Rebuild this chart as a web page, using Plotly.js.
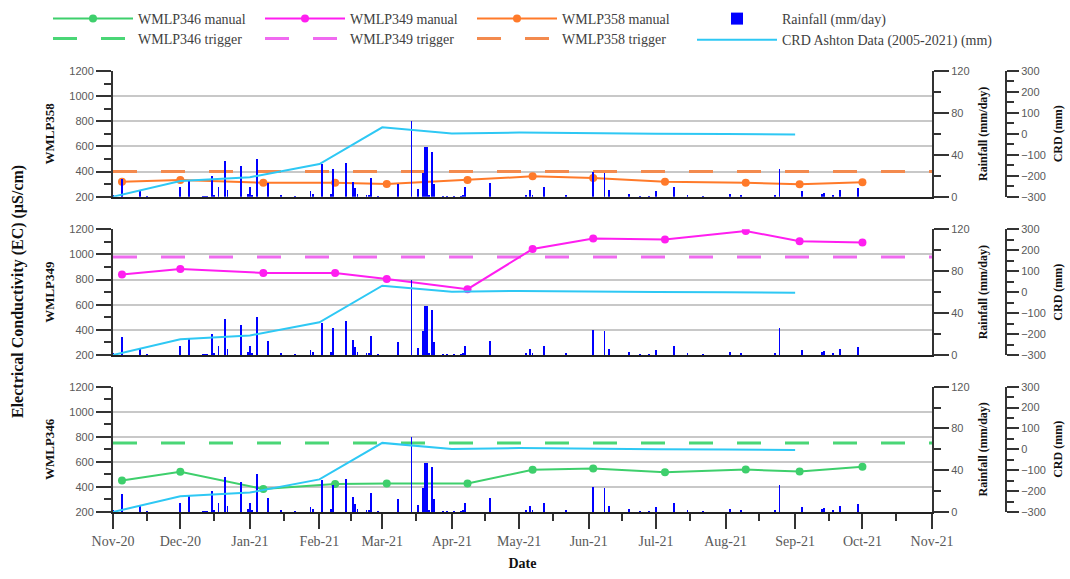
<!DOCTYPE html>
<html>
<head>
<meta charset="utf-8">
<script src="https://cdn.plot.ly/plotly-3.0.1.min.js"></script>
<style>html,body{margin:0;padding:0;background:#fff;}#chart{width:1070px;height:579px;}</style>
</head>
<body>
<div id="chart"></div>
<script>
// ---------- data ----------
const sampleDates = ['2020-11-05','2020-12-01','2021-01-07','2021-02-08','2021-03-03','2021-04-08','2021-05-07','2021-06-03','2021-07-05','2021-08-10','2021-09-03','2021-10-01'];
const wmlp346 = [452, 521, 383, 423, 428, 428, 537, 547, 518, 539, 523, 561];
const wmlp349 = [840, 885, 853, 853, 805, 724, 1043, 1126, 1118, 1187, 1105, 1094];
const wmlp358 = [319, 333, 311, 311, 301, 333, 362, 349, 319, 311, 299, 315];

const trigger346 = 750;
const trigger349 = 980;
const trigger358 = 400;
const dateRange = ['2020-11-01', '2021-11-01'];

const crdDates = ['2020-11-01','2020-12-01','2021-01-01','2021-02-01','2021-03-01','2021-04-01','2021-05-01','2021-06-01','2021-07-01','2021-08-01','2021-09-01'];
const crdValues = [-300, -225, -207, -144, 31, 2, 6, 5, 1, -1, -3];

const rainDates = ['2020-11-01','2020-11-05','2020-11-13','2020-11-16','2020-12-01','2020-12-05','2020-12-11','2020-12-12','2020-12-13','2020-12-15','2020-12-16','2020-12-18','2020-12-21','2020-12-22','2020-12-28','2020-12-31',
 '2021-01-01','2021-01-02','2021-01-04','2021-01-09','2021-01-15','2021-01-21','2021-01-28','2021-01-29','2021-02-02','2021-02-06','2021-02-07','2021-02-13','2021-02-16','2021-02-17','2021-02-18','2021-02-22','2021-02-23','2021-02-24','2021-02-27',
 '2021-03-08','2021-03-14','2021-03-17','2021-03-19','2021-03-20','2021-03-21','2021-03-22','2021-03-23','2021-03-24','2021-03-28','2021-03-30','2021-04-02','2021-04-05','2021-04-06','2021-04-07','2021-04-18',
 '2021-05-04','2021-05-06','2021-05-07','2021-05-12','2021-05-22','2021-06-03','2021-06-08','2021-06-10','2021-06-19','2021-06-24','2021-06-28','2021-07-01','2021-07-09','2021-07-15','2021-07-22',
 '2021-08-03','2021-08-08','2021-08-23','2021-08-25','2021-09-04','2021-09-13','2021-09-14','2021-09-18','2021-09-21','2021-09-29'];
const rainValues = [2,17,6,1,9,16,1,1,1,20,2,9,34,6,29,3,
 9,2,36,13,2,1,5,3,31,3,26,32,14,8,3,2,2,18,1,
 12,72,7,23,47,47,2,43,12,1,1,1,1,2,9,13,
 2,6,2,9,2,24,23,6,3,1,1,5,9,2,1,
 3,2,2,26,5,3,4,2,6,8];

const monthTicks = ['2020-11-01','2020-12-01','2021-01-01','2021-02-01','2021-03-01','2021-04-01','2021-05-01','2021-06-01','2021-07-01','2021-08-01','2021-09-01','2021-10-01','2021-11-01'];
const monthLabels = ['Nov-20','Dec-20','Jan-21','Feb-21','Mar-21','Apr-21','May-21','Jun-21','Jul-21','Aug-21','Sep-21','Oct-21','Nov-21'];
const minorTicks = ['2020-11-16','2020-12-16','2021-01-16','2021-02-15','2021-03-16','2021-04-16','2021-05-16','2021-06-16','2021-07-16','2021-08-16','2021-09-16','2021-10-16'];

// ---------- styling ----------
const SERIF = 'Liberation Serif, Times New Roman, serif';
const SANS = 'Liberation Sans, Arial, sans-serif';
const colGreen = '#3ECF6C', colMag = '#FF1EF0', colOrange = '#FF7A2A', colCyan = '#2EC8F4', colBlue = '#0000FF';
const trGreen = '#4AD676', trMag = '#F06AF0', trOrange = '#F38A4E';

const panels = [
  {x:'x3', ec:'y7', rain:'y8', crd:'y9', name:'WMLP358', vals:wmlp358, col:colOrange, trig:trigger358, tcol:trOrange},
  {x:'x2', ec:'y4', rain:'y5', crd:'y6', name:'WMLP349', vals:wmlp349, col:colMag, trig:trigger349, tcol:trMag},
  {x:'x',  ec:'y',  rain:'y2', crd:'y3', name:'WMLP346', vals:wmlp346, col:colGreen, trig:trigger346, tcol:trGreen}
];
const rankSeries = {WMLP346:1, WMLP349:2, WMLP358:3};

const traces = [];
panels.forEach((p, i) => {
  const first = (i === 0);
  traces.push({type:'scatter', mode:'lines', x:dateRange, y:[p.trig, p.trig], xaxis:p.x, yaxis:p.ec, legend:'legend2',
    line:{color:p.tcol, width:3, dash:'24px,24px'}, name:p.name + ' trigger', legendrank:rankSeries[p.name], hoverinfo:'skip'});
  traces.push({type:'scatter', mode:'lines+markers', x:sampleDates, y:p.vals, xaxis:p.x, yaxis:p.ec, legend:'legend',
    line:{color:p.col, width:2}, marker:{color:p.col, size:8}, name:p.name + ' manual', legendrank:rankSeries[p.name]});
  traces.push({type:'bar', x:rainDates, y:rainValues, xaxis:p.x, yaxis:p.rain, width:0.8*86400000, legend:'legend3',
    marker:{color:colBlue, line:{width:0}}, name:'Rainfall (mm/day)', showlegend:first, legendrank:1});
  traces.push({type:'scatter', mode:'lines', x:crdDates, y:crdValues, xaxis:p.x, yaxis:p.crd, legend:'legend3',
    line:{color:colCyan, width:2}, name:'CRD Ashton Data (2005-2021) (mm)', showlegend:first, legendrank:2});
});

const W = 1070, H = 579, L = 113, R = 10, T = 71, B = 67;
const pw = W - L - R, ph = H - T - B;
const xEnd = (932 - L) / pw;
const crdPos = (1006 - L) / pw;
const dom = (top, bot) => [(H - B - bot) / ph, Math.min(1, (H - B - top) / ph)];

const tickGrey = '#595959';
function ecAxis(domain, anchor, label) {
  return {domain:domain, anchor:anchor, range:[200,1200], tick0:200, dtick:200, ticks:'outside', ticklen:15, tickwidth:2, tickcolor:'#333',
    minor:{dtick:100, tick0:200, ticks:'outside', ticklen:7, tickwidth:2, tickcolor:'#333', showgrid:false},
    showline:true, linecolor:'#333', linewidth:2, showgrid:true, gridcolor:'#C8C8C8', gridwidth:2, zeroline:false,
    tickfont:{family:SANS, size:11, color:tickGrey},
    title:{text:'<b>' + label + '</b>', font:{family:SERIF, size:13, color:'#111'}, standoff:12}};
}
function rainAxis(over, anchor) {
  return {overlaying:over, anchor:anchor, side:'right', range:[0,120], tick0:0, dtick:40, ticks:'outside', ticklen:15, tickwidth:2, tickcolor:'#333',
    minor:{dtick:20, tick0:0, ticks:'outside', ticklen:7, tickwidth:2, tickcolor:'#333', showgrid:false},
    showline:true, linecolor:'#333', linewidth:2, showgrid:false, zeroline:false,
    tickfont:{family:SANS, size:11, color:tickGrey},
    title:{text:'<b>Rainfall (mm/day)</b>', font:{family:SERIF, size:12, color:'#111'}, standoff:10}};
}
function crdAxis(over) {
  return {overlaying:over, anchor:'free', position:crdPos, side:'right', range:[-300,300], tick0:-300, dtick:100, ticks:'outside', ticklen:12, tickwidth:2, tickcolor:'#333',
    minor:{dtick:50, tick0:-300, ticks:'outside', ticklen:7, tickwidth:2, tickcolor:'#333', showgrid:false},
    showline:true, linecolor:'#333', linewidth:2, showgrid:false, zeroline:false,
    tickfont:{family:SANS, size:11, color:tickGrey},
    title:{text:'<b>CRD (mm)</b>', font:{family:SERIF, size:12, color:'#111'}, standoff:8}};
}
function xAxis(anchor, bottom) {
  const a = {domain:[0, xEnd], anchor:anchor, type:'date', range:dateRange, showline:true, linecolor:'#222', linewidth:2,
    showgrid:false, zeroline:false};
  if (bottom) {
    Object.assign(a, {tickmode:'array', tickvals:monthTicks, ticktext:monthLabels, ticks:'outside', ticklen:15, tickwidth:2, tickcolor:'#333',
      minor:{tickmode:'array', tickvals:minorTicks, ticks:'outside', ticklen:7, tickwidth:2, tickcolor:'#333', showgrid:false},
      tickfont:{family:SERIF, size:14, color:tickGrey},
      title:{text:'<b>Date</b>', font:{family:SERIF, size:14, color:'#111'}, standoff:10}});
  } else {
    Object.assign(a, {matches:'x', showticklabels:false, ticks:''});
  }
  return a;
}
function legendAt(leftPx, topPx, horiz) {
  const lg = {orientation: horiz ? 'h' : 'v', x:(leftPx - L)/pw, xanchor:'left', y:1 + (T - topPx)/ph, yanchor:'top', itemwidth:80,
    font:{family:SERIF, size:14, color:'#404040'}, bgcolor:'rgba(0,0,0,0)', tracegroupgap:0, traceorder:'normal'};
  if (horiz) lg.entrywidth = 117;
  return lg;
}

const layout = {
  width:W, height:H, margin:{l:L, r:R, t:T, b:B, autoexpand:false}, paper_bgcolor:'#fff', plot_bgcolor:'rgba(0,0,0,0)',
  barmode:'overlay', bargap:0, showlegend:true,
  font:{family:SERIF, color:'#404040'},
  legend: legendAt(48, 3, true),
  legend2: legendAt(48, 23, true),
  legend3: legendAt(692, 3, false),
  xaxis: xAxis('y', true),
  xaxis2: xAxis('y4', false),
  xaxis3: xAxis('y7', false),
  yaxis: ecAxis(dom(386.7, 512.3), 'x', 'WMLP346'),
  yaxis2: rainAxis('y', 'x'),
  yaxis3: crdAxis('y'),
  yaxis4: ecAxis(dom(229.3, 355), 'x2', 'WMLP349'),
  yaxis5: rainAxis('y4', 'x2'),
  yaxis6: crdAxis('y4'),
  yaxis7: ecAxis(dom(71, 196.7), 'x3', 'WMLP358'),
  yaxis8: rainAxis('y7', 'x3'),
  yaxis9: crdAxis('y7'),
  annotations:[{xref:'paper', yref:'paper', x:(18 - L)/pw, y:(H - B - 292)/ph, xanchor:'center', yanchor:'middle', textangle:-90,
    showarrow:false, text:'<b>Electrical Conductivity (EC) (µS/cm)</b>', font:{family:SERIF, size:16, color:'#111'}}]
};

Plotly.newPlot('chart', traces, layout, {staticPlot:true, displayModeBar:false});
</script>
</body>
</html>
